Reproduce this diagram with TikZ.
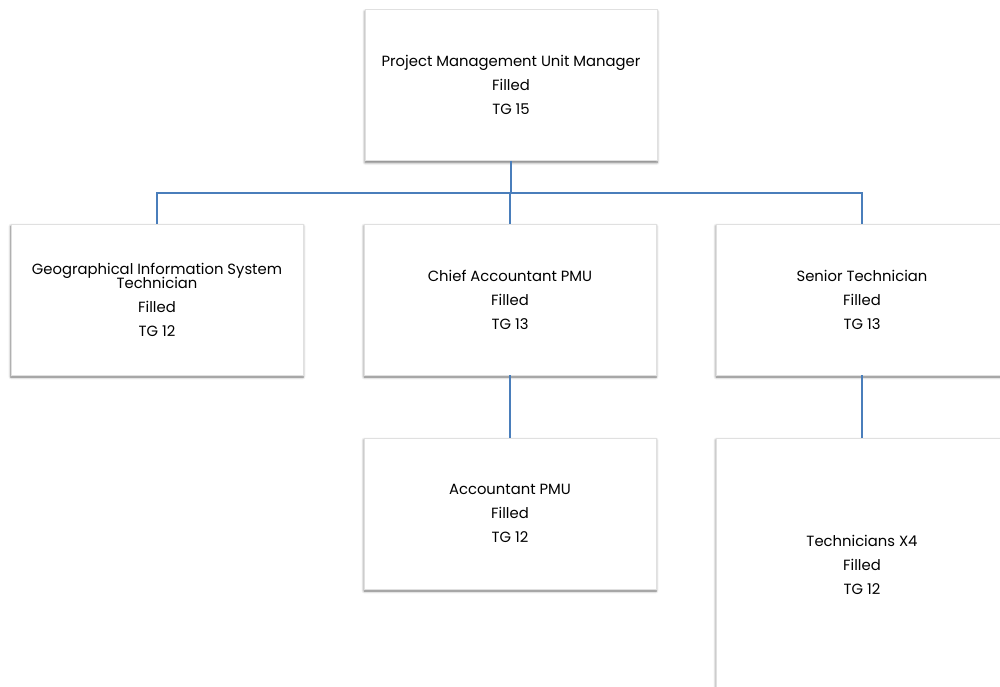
\documentclass[tikz,border=0pt]{standalone}
\usepackage{fontspec}
\setmainfont{Poppins}
\usepackage{tikz}
\usetikzlibrary{positioning, shadows.blur}
\definecolor{linkblue}{RGB}{74, 126, 187}

\tikzset{
  post/.style={draw=black!12, fill=white, line width=0.6pt,
    minimum width=292pt, minimum height=151pt, inner sep=0pt,
    align=center, font=\fontsize{14.8}{24}\selectfont,
    blur shadow={shadow xshift=0pt, shadow yshift=-2pt, shadow blur radius=2.5pt,
      shadow blur steps=6, shadow opacity=55}},
  link/.style={draw=linkblue, line width=1.5pt}
}

\begin{document}
\begin{tikzpicture}[x=1pt, y=-1pt]
  \useasboundingbox (0,0) rectangle (1000,686);
  \clip (0,0) rectangle (1000,686);

  % boxes
  \node[post] (pmu) at (511,85) {Project Management Unit Manager\\Filled\\TG 15};
  \node[post] (gis) at (157,299.5) {Geographical Information System\\[-10pt]Technician\\Filled\\TG 12};
  \node[post] (chief) at (510,299.5) {Chief Accountant PMU\\Filled\\TG 13};
  \node[post] (senior) at (862,299.5) {Senior Technician\\Filled\\TG 13};
  \node[post] (acct) at (510,513.5) {Accountant PMU\\Filled\\TG 12};
  \node[post, minimum height=254pt] (tech) at (862,565) {Technicians X4\\Filled\\TG 12};

  % connectors
  \coordinate (bus) at (511,193);
  \draw[link] (pmu.south) -- (bus);
  \draw[link] (gis.north) |- (bus) -| (senior.north);
  \draw[link] (bus) -- (bus -| chief.north) -- (chief.north);
  \draw[link] (chief.south) -- (acct.north);
  \draw[link] (senior.south) -- (tech.north);
\end{tikzpicture}
\end{document}
